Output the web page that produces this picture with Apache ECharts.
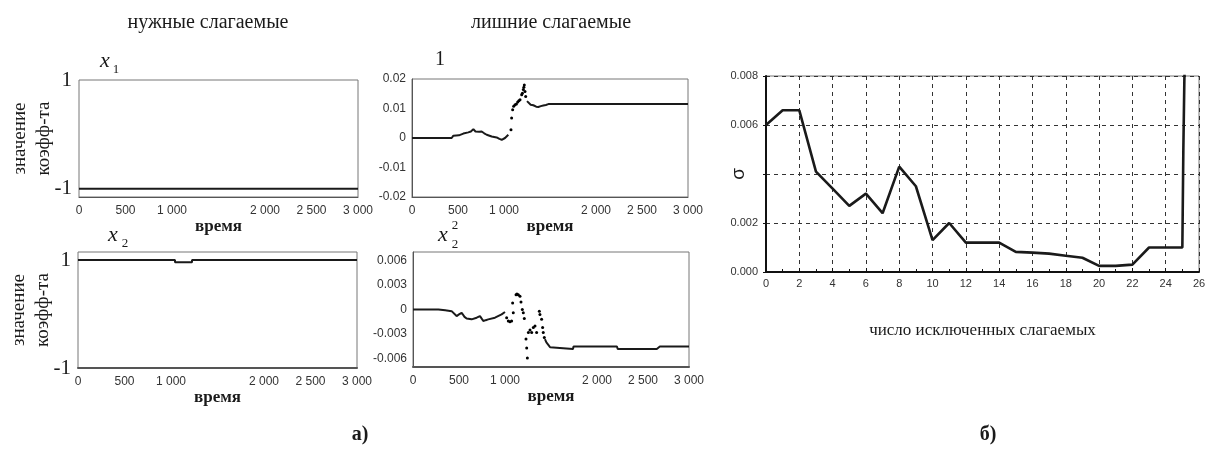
<!DOCTYPE html>
<html>
<head>
<meta charset="utf-8">
<script src="https://cdn.jsdelivr.net/npm/echarts@6/dist/echarts.min.js"></script>
<style>
    html, body { margin: 0; padding: 0; background: #fff; }
    #chart { width: 1207px; height: 465px; }
</style>
</head>
<body>
<div id="chart"></div>
<script>
// подписи оси времени (1500 в оригинале не подписано)
const timeTickLabels = [0, 500, 1000, 2000, 2500, 3000];

// нужные слагаемые: x1, x2
const needX1 = [[0, -1], [3000, -1]];
const needX2 = [[0, 1], [1043, 1], [1043, 0.96], [1226, 0.96], [1226, 1], [3000, 1]];

// лишнее слагаемое "1"
const extraOneHead = [[0, 0], [431, 0], [450, 0.0008], [467, 0.0011], [510, 0.0009], [558, 0.0015], [612, 0.0019],
    [640, 0.0022], [667, 0.003], [690, 0.0022], [703, 0.0017], [730, 0.0021], [757, 0.0022], [785, 0.0016],
    [812, 0.0011], [866, 0.0005], [920, 0.0002], [950, -0.0003], [975, -0.0006], [1011, 0], [1047, 0.0011]];
const extraOneDots = [[1076, 0.0028], [1083, 0.0068], [1094, 0.0096], [1105, 0.0108], [1120, 0.0113], [1135, 0.0115],
    [1149, 0.0122], [1162, 0.0126], [1174, 0.013], [1192, 0.0147], [1200, 0.0152], [1210, 0.0164], [1216, 0.0172],
    [1221, 0.018], [1228, 0.0158], [1236, 0.0141]];
const extraOneTail = [[1250, 0.0125], [1264, 0.0119], [1290, 0.0113], [1319, 0.0111], [1350, 0.0106], [1373, 0.0105],
    [1400, 0.0108], [1427, 0.011], [1455, 0.0112], [1482, 0.0115], [3000, 0.0115]];

// лишнее слагаемое x2^2
const extraSqHead = [[0, 0], [276, 0], [350, -0.0001], [420, -0.0002], [474, -0.0008], [500, -0.0006], [529, -0.0004],
    [560, -0.0009], [583, -0.0011], [637, -0.0012], [692, -0.001], [728, -0.0008], [764, -0.0014], [790, -0.0013],
    [818, -0.0012], [891, -0.001], [963, -0.0006], [1000, -0.0003]];
const extraSqDots = [[1018, -0.001], [1036, -0.0014], [1054, -0.0015], [1072, -0.0014], [1083, 0.0008], [1090, -0.0004],
    [1120, 0.0018], [1130, 0.0019], [1145, 0.0018], [1163, 0.0016], [1174, 0.0009], [1188, 0], [1199, -0.0004],
    [1210, -0.0011], [1228, -0.0036], [1236, -0.0047], [1243, -0.0059], [1254, -0.0028], [1272, -0.0025],
    [1290, -0.0028], [1308, -0.0022], [1326, -0.002], [1344, -0.0028], [1373, -0.0002], [1380, -0.0006],
    [1398, -0.0012], [1409, -0.0022], [1416, -0.0028], [1427, -0.0034]];
const extraSqTail = [[1434, -0.0036], [1450, -0.004], [1471, -0.0043], [1490, -0.0046], [1507, -0.0048], [1739, -0.0048],
    [1745, -0.0045], [2217, -0.0045], [2225, -0.0048], [2650, -0.0048], [2683, -0.0045], [3000, -0.0045]];

// б) сигма от числа исключенных слагаемых
const excludedCount = [0, 1, 2, 3, 4, 5, 6, 7, 8, 9, 10, 11, 12, 13, 14, 15, 16, 17, 18, 19, 20, 21, 22, 23, 24, 25,
    25.02, 25.06, 25.12, 25.18];
const sigmaValues = [0.006, 0.0066, 0.0066, 0.0041, 0.0034, 0.0027, 0.0032, 0.0024, 0.0043, 0.0035, 0.0013, 0.002,
    0.0012, 0.0012, 0.0012, 0.00082, 0.00079, 0.00075, 0.00066, 0.00058, 0.00025, 0.00025, 0.0003, 0.001, 0.001, 0.001,
    0.0023, 0.005, 0.0078, 0.0095];

const serif = '"Liberation Serif", "DejaVu Serif", serif';
const sans = '"Liberation Sans", Arial, sans-serif';
const ink = "#1a1a1a";

function fmtTime(v) {
    if (timeTickLabels.indexOf(v) < 0) return "";
    return v >= 1000 ? Math.floor(v / 1000) + " " + String(v % 1000).padStart(3, "0") : String(v);
}

function makeGrid(left, top, width, height) {
    return { left, top, width, height, show: true, borderColor: "#777", borderWidth: 1, outerBoundsMode: "none" };
}

function timeAxis(gridIndex, axisWidth) {
    return {
        type: "value", gridIndex, min: 0, max: 3000, interval: 500,
        axisLine: { show: true, onZero: false, lineStyle: { color: "#555", width: axisWidth } },
        axisTick: { show: false },
        splitLine: { show: false },
        axisLabel: { formatter: fmtTime, fontFamily: sans, fontSize: 12, color: "#333", margin: 8 },
        name: "время", nameLocation: "middle", nameGap: 21, nameMoveOverlap: false,
        nameTextStyle: { fontFamily: serif, fontWeight: "bold", fontSize: 17, color: ink }
    };
}

function unitAxis(gridIndex, min, max) {
    return {
        type: "value", gridIndex, min, max, interval: 0.05,
        axisLine: { show: false, onZero: false }, axisTick: { show: false }, splitLine: { show: false },
        axisLabel: {
            fontFamily: serif, fontSize: 21, color: ink, margin: 7,
            formatter: v => Math.abs(v - 1) < 1e-6 ? "1" : (Math.abs(v + 1) < 1e-6 ? "-1" : "")
        },
        name: "значение\nкоэфф-та", nameLocation: "middle", nameGap: 23, nameMoveOverlap: false,
        nameTextStyle: { fontFamily: serif, fontSize: 19, lineHeight: 24, color: ink }
    };
}

function lineSeries(data, xi, width) {
    return { type: "line", xAxisIndex: xi, yAxisIndex: xi, data, showSymbol: false, animation: false,
        lineStyle: { color: ink, width }, itemStyle: { color: ink } };
}

function dotSeries(data, xi) {
    return { type: "scatter", xAxisIndex: xi, yAxisIndex: xi, data, symbolSize: 3, animation: false,
        itemStyle: { color: "#000", opacity: 1 } };
}

function label(text, x, y, font, align) {
    return { type: "text", x, y, silent: true,
        style: { text, font, fill: ink, align: align || "center", verticalAlign: "middle" } };
}

const sigmaData = excludedCount.map((c, i) => [c, sigmaValues[i]]);

const chart = echarts.init(document.getElementById("chart"));
chart.setOption({
    animation: false,
    backgroundColor: "#fff",
    grid: [
        makeGrid(79, 80, 279, 117),
        makeGrid(412, 79, 276, 118),
        makeGrid(78, 252, 279, 116),
        makeGrid(413, 252, 276, 115),
        makeGrid(766, 76, 433, 196)
    ],
    xAxis: [
        timeAxis(0, 1),
        timeAxis(1, 1),
        timeAxis(2, 2),
        timeAxis(3, 2),
        {
            type: "value", gridIndex: 4, min: 0, max: 26, interval: 2,
            axisLine: { show: true, onZero: false, lineStyle: { color: "#111", width: 2 } },
            axisTick: { show: true, inside: true, length: 4, lineStyle: { color: "#111" } },
            minorTick: { show: true, splitNumber: 2, length: 3, lineStyle: { color: "#111" } },
            splitLine: { show: true, lineStyle: { color: "#333", type: [4, 4], width: 1 } },
            axisLabel: { fontFamily: sans, fontSize: 11, color: "#333", margin: 6 },
            name: "число исключенных слагаемых", nameLocation: "middle", nameGap: 50, nameMoveOverlap: false,
            nameTextStyle: { fontFamily: serif, fontSize: 17, color: ink }
        }
    ],
    yAxis: [
        unitAxis(0, -1.15, 1),
        {
            type: "value", gridIndex: 1, min: -0.02, max: 0.02, interval: 0.01,
            axisLine: { show: true, onZero: false, lineStyle: { color: "#555" } }, axisTick: { show: false }, splitLine: { show: false },
            axisLabel: { fontFamily: sans, fontSize: 12, color: "#333", margin: 6,
                formatter: v => { const k = Math.round(v * 100); return k === 0 ? "0" : (k / 100).toFixed(2); } }
        },
        unitAxis(2, -1, 1.15),
        {
            type: "value", gridIndex: 3, min: -0.007, max: 0.007, interval: 0.001,
            axisLine: { show: true, onZero: false, lineStyle: { color: "#555" } }, axisTick: { show: false }, splitLine: { show: false },
            axisLabel: { fontFamily: sans, fontSize: 12, color: "#333", margin: 6,
                formatter: v => { const k = Math.round(v * 1000); if (k % 3 !== 0) return ""; return k === 0 ? "0" : (k / 1000).toFixed(3); } }
        },
        {
            type: "value", gridIndex: 4, min: 0, max: 0.008, interval: 0.002,
            axisLine: { show: true, onZero: false, lineStyle: { color: "#111", width: 2 } },
            axisTick: { show: true, length: 3, lineStyle: { color: "#111" } },
            splitLine: { show: true, lineStyle: { color: "#333", type: [4, 4], width: 1 } },
            axisLabel: { fontFamily: sans, fontSize: 11, color: "#333", margin: 8,
                formatter: v => { const k = Math.round(v * 1000); return k === 4 ? "" : (k / 1000).toFixed(3); } },
            name: "σ", nameLocation: "middle", nameGap: 18, nameRotate: 90, nameMoveOverlap: false,
            nameTextStyle: { fontFamily: sans, fontSize: 19, color: ink }
        }
    ],
    series: [
        lineSeries(needX1, 0, 2),
        lineSeries(extraOneHead, 1, 2),
        dotSeries(extraOneDots, 1),
        lineSeries(extraOneTail, 1, 2),
        lineSeries(needX2, 2, 2),
        lineSeries(extraSqHead, 3, 2),
        dotSeries(extraSqDots, 3),
        lineSeries(extraSqTail, 3, 2),
        lineSeries(sigmaData, 4, 2.6)
    ],
    graphic: [
        label("нужные слагаемые", 208, 23, `20px ${serif}`),
        label("лишние слагаемые", 551, 23, `20px ${serif}`),
        label("x", 105, 61, `italic 22px ${serif}`),
        label("1", 116, 70, `13px ${serif}`),
        label("1", 440, 60, `20px ${serif}`),
        label("x", 113, 235, `italic 22px ${serif}`),
        label("2", 125, 244, `13px ${serif}`),
        label("x", 443, 235, `italic 22px ${serif}`),
        label("2", 455, 226, `13px ${serif}`),
        label("2", 455, 245, `13px ${serif}`),
        label("а)", 360, 435, `bold 20px ${serif}`),
        label("б)", 988, 435, `bold 20px ${serif}`)
    ]
});
</script>
</body>
</html>
